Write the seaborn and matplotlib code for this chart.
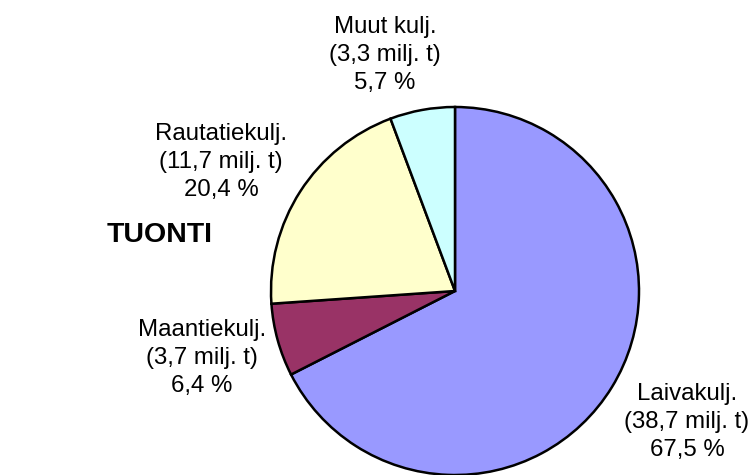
import matplotlib
matplotlib.use("Agg")
import matplotlib.pyplot as plt
import seaborn as sns

# import volumes by transport mode (TUONTI)
modes = ["Laivakulj.", "Maantiekulj.", "Rautatiekulj.", "Muut kulj."]
tonnes = [38.7, 3.7, 11.7, 3.3]      # milj. t
shares = [67.5, 6.4, 20.4, 5.7]      # %
colors = ["#9999FF", "#993366", "#FFFFCC", "#CCFFFF"]

sns.set_theme(style="white")
plt.rcParams["font.family"] = ["Liberation Sans", "DejaVu Sans"]

W, H = 753, 475
fig = plt.figure(figsize=(W / 100, H / 100), dpi=100)
ax = fig.add_axes([0, 0, 1, 1])

# pie center / radius in pixel units (y measured from bottom)
cx, cy, r = 455, H - 291, 184
ax.pie(shares, colors=colors, startangle=90, counterclock=False,
       center=(cx, cy), radius=r, frame=True,
       wedgeprops=dict(edgecolor="black", linewidth=1.8))
ax.set_xlim(0, W)
ax.set_ylim(0, H)
ax.set_aspect("equal")
ax.axis("off")

def fi(v):
    return f"{v:.1f}".replace(".", ",")

label_pos = [(687, 422), (202, 358), (221, 162), (385, 55)]
for name, t, s, (x, y) in zip(modes, tonnes, shares, label_pos):
    ax.text(x, H - y, f"{name}\n({fi(t)} milj. t)\n{fi(s)} %",
            ha="center", va="center", fontsize=17.3, color="black",
            linespacing=1.38)

ax.text(160, H - 235, "TUONTI", ha="center", va="center",
        fontsize=20.5, fontweight="bold", color="black")

fig.savefig("out.png", dpi=100)
